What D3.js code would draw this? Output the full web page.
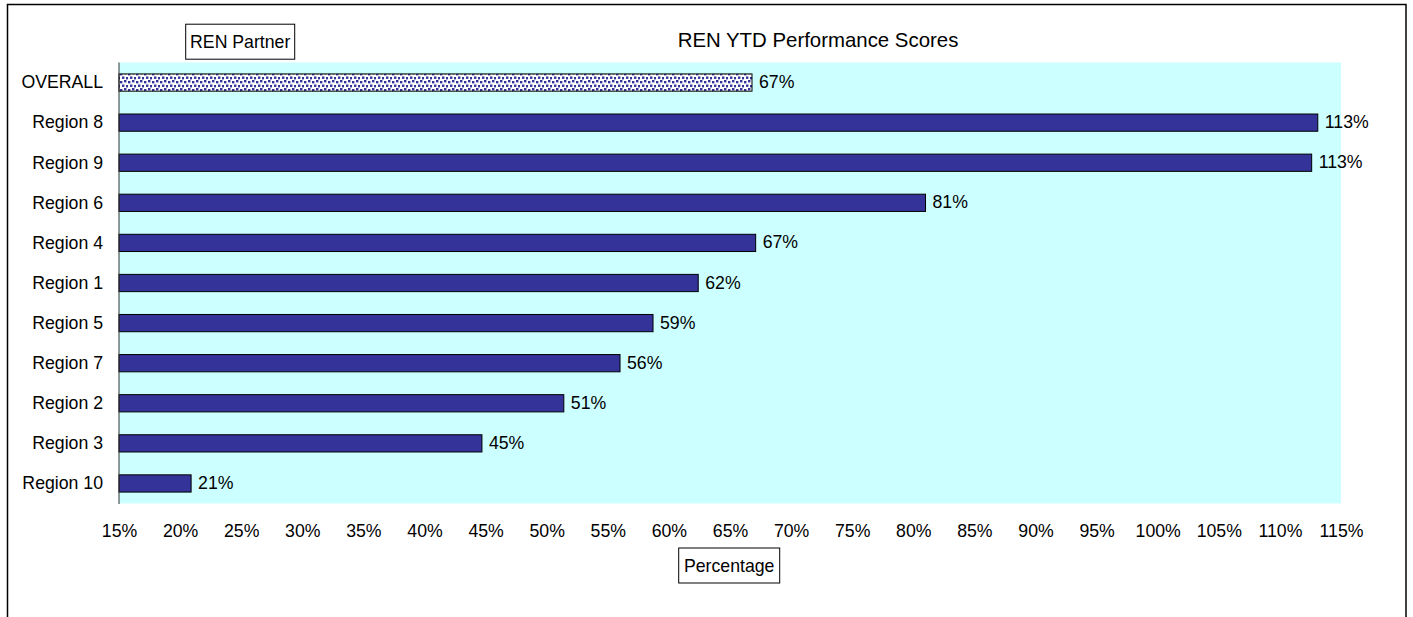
<!DOCTYPE html>
<html>
<head>
<meta charset="utf-8">
<script src="https://cdn.jsdelivr.net/npm/d3@7"></script>
<style>
  html, body { margin: 0; padding: 0; background: #ffffff; }
  svg { display: block; font-family: "Liberation Sans", Arial, sans-serif; }
</style>
</head>
<body>
<svg id="chart" width="1413" height="617"></svg>
<script>
// ---- data ----
const categories = ["OVERALL", "Region 8", "Region 9", "Region 6", "Region 4", "Region 1",
                    "Region 5", "Region 7", "Region 2", "Region 3", "Region 10"];
const values = [66.8, 113.1, 112.6, 81.0, 67.1, 62.4, 58.7, 56.0, 51.4, 44.7, 20.9];
const xTicks = [15, 20, 25, 30, 35, 40, 45, 50, 55, 60, 65, 70, 75, 80, 85, 90, 95, 100, 105, 110, 115];
const chartTitle = "REN YTD Performance Scores";
const yTitle = "REN Partner";
const xTitle = "Percentage";

// ---- layout ----
const svg = d3.select("#chart");
const plot = { left: 119, right: 1341, top: 62.5, bottom: 503.5 };
const fontSize = 17.7;

const x = d3.scaleLinear().domain([15, 115]).range([plot.left, plot.right]);
const y = d3.scaleBand().domain(categories).range([plot.top, plot.bottom]).paddingInner(0.57).paddingOuter(0.285);

// pattern for OVERALL bar
const defs = svg.append("defs");
const pat = defs.append("pattern").attr("id", "confetti").attr("patternUnits", "userSpaceOnUse")
  .attr("width", 8).attr("height", 8);
pat.append("rect").attr("width", 8).attr("height", 8).attr("fill", "#ffffff");
[[0, 1], [4, 0], [2, 4.5], [6, 5]].forEach(([px, py]) => {
  pat.append("rect").attr("x", px).attr("y", py).attr("width", 2.4).attr("height", 2.4).attr("fill", "#333399");
});

// outer border
svg.append("rect").attr("x", 7.5).attr("y", 4.5).attr("width", 1398.5).attr("height", 660)
  .attr("fill", "none").attr("stroke", "#000").attr("stroke-width", 1.5);

// plot background
svg.append("rect").attr("x", plot.left).attr("y", plot.top)
  .attr("width", plot.right - plot.left).attr("height", plot.bottom - plot.top)
  .attr("fill", "#ccffff");

// bars
svg.append("g").selectAll("rect").data(categories).join("rect")
  .attr("x", x(15))
  .attr("y", d => y(d))
  .attr("width", (d, i) => x(values[i]) - x(15))
  .attr("height", y.bandwidth())
  .attr("fill", (d, i) => i === 0 ? "url(#confetti)" : "#333399")
  .attr("stroke", "#000").attr("stroke-width", 1);

// left axis line
svg.append("line").attr("x1", plot.left).attr("x2", plot.left)
  .attr("y1", plot.top).attr("y2", plot.bottom + 0.5)
  .attr("stroke", "#333").attr("stroke-width", 1);

// value labels
svg.append("g").selectAll("text").data(categories).join("text")
  .attr("x", (d, i) => x(values[i]) + 7)
  .attr("y", d => y(d) + y.bandwidth() / 2 + 5.5)
  .attr("font-size", fontSize).attr("fill", "#000")
  .text((d, i) => Math.round(values[i]) + "%");

// y axis (category labels)
const yAxis = d3.axisLeft(y).tickSize(0).tickPadding(16);
const gy = svg.append("g").attr("transform", `translate(${plot.left},0)`).call(yAxis);
gy.select(".domain").remove();
gy.selectAll("text").attr("font-size", fontSize).attr("font-family", "Liberation Sans, Arial, sans-serif")
  .attr("fill", "#000").attr("dy", "0.33em");

// x axis (tick labels)
const xAxis = d3.axisBottom(x).tickValues(xTicks).tickSize(0).tickPadding(21).tickFormat(d => d + "%");
const gx = svg.append("g").attr("transform", `translate(0,${plot.bottom})`).call(xAxis);
gx.select(".domain").remove();
gx.selectAll("text").attr("font-size", fontSize).attr("font-family", "Liberation Sans, Arial, sans-serif")
  .attr("fill", "#000");

// chart title
svg.append("text").attr("x", 818).attr("y", 47).attr("text-anchor", "middle")
  .attr("font-size", 20.4).attr("fill", "#000").text(chartTitle);

// boxed axis titles
function boxedText(cx, cy, w, h, txt) {
  svg.append("rect").attr("x", cx - w / 2).attr("y", cy - h / 2).attr("width", w).attr("height", h)
    .attr("fill", "#fff").attr("stroke", "#000").attr("stroke-width", 1);
  svg.append("text").attr("x", cx).attr("y", cy + 6.2).attr("text-anchor", "middle")
    .attr("font-size", fontSize).attr("fill", "#000").text(txt);
}
boxedText(240.2, 41.7, 109, 35, yTitle);
boxedText(729.2, 565.5, 101, 35, xTitle);
</script>
</body>
</html>
